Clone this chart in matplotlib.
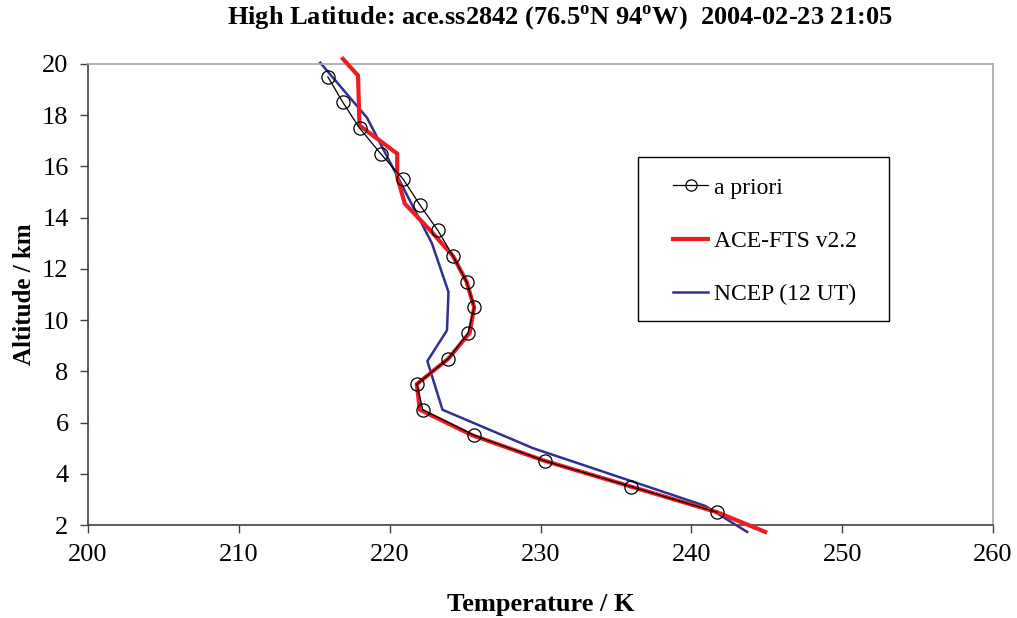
import numpy as np
import matplotlib
matplotlib.use("Agg")
import matplotlib.pyplot as plt
from matplotlib.patches import Rectangle

# -----------------------------
# Data
# -----------------------------
apriori_alt = [19.5, 18.5, 17.5, 16.5, 15.5, 14.5, 13.5, 12.5, 11.5, 10.5,
               9.5, 8.5, 7.5, 6.5, 5.5, 4.5, 3.5, 2.5]
apriori_T = [215.9, 216.9, 218.0, 219.4, 220.9, 222.0, 223.2, 224.2, 225.1, 225.6,
             225.2, 223.9, 221.8, 222.2, 225.6, 230.3, 236.0, 241.7]

ace_alt = [20.2, 19.55, 17.6, 16.5, 15.6, 14.55, 13.5, 12.5, 11.5, 10.5,
           9.5, 8.5, 7.5, 6.5, 5.5, 4.5, 3.5, 2.5, 1.73]
ace_T = [216.9, 217.9, 218.0, 220.5, 220.5, 221.0, 222.7, 224.2, 225.1, 225.6,
         225.3, 223.9, 221.8, 222.0, 225.5, 230.3, 236.0, 241.7, 244.9]

ncep_alt = [20.05, 17.9, 13.0, 11.1, 9.6, 8.4, 6.5, 5.0, 2.75, 1.73]
ncep_T = [215.4, 218.5, 222.8, 223.9, 223.8, 222.5, 223.5, 229.5, 240.9, 243.7]

xticks = [200, 210, 220, 230, 240, 250, 260]
yticks = [2, 4, 6, 8, 10, 12, 14, 16, 18, 20]

plt.rcParams["font.family"] = ["Liberation Serif", "DejaVu Serif"]
plt.rcParams["mathtext.fontset"] = "custom"
plt.rcParams["mathtext.rm"] = "Liberation Serif:bold"
plt.rcParams["mathtext.bf"] = "Liberation Serif:bold"

W, H = 1017, 618
fig = plt.figure(figsize=(W/100, H/100), dpi=100)
ax = fig.add_axes([88/W, 1-525/H, 905/W, 461/H])

ax.plot(apriori_T, apriori_alt, color="black", lw=0.9, marker="o", ms=9.5,
        mfc="none", mec="black", mew=0.9, label="a priori", zorder=4, clip_on=False)
ax.plot(ace_T, ace_alt, color="#ED1C24", lw=3.0, label="ACE-FTS v2.2",
        zorder=3, clip_on=False, solid_joinstyle="miter")
ax.plot(ncep_T, ncep_alt, color="#2E3192", lw=1.8, label="NCEP (12 UT)",
        zorder=2, clip_on=False)

ax.set_xlim(200, 260)
ax.set_ylim(2, 20)
ax.set_xticks(xticks)
ax.set_yticks(yticks)
ax.tick_params(axis="both", direction="out", length=6, width=1, labelsize=19,
               color="#404040")
ax.tick_params(axis="x", pad=8)
ax.tick_params(axis="y", pad=8)

for s in ["left", "bottom"]:
    ax.spines[s].set_color("#404040")
    ax.spines[s].set_linewidth(1.2)
for s in ["top", "right"]:
    ax.spines[s].set_color("#A6A6A6")
    ax.spines[s].set_linewidth(1.2)

ax.set_xlabel("Temperature / K", fontsize=19, fontweight="bold", labelpad=19)
ax.set_ylabel("Altitude / km", fontsize=18, fontweight="bold", labelpad=4)

fig.text(560/W, 1-18/H,
         r"High Latitude: ace.ss2842 (76.5$^{\mathbf{o}}$N 94$^{\mathbf{o}}$W)  2004-02-23 21:05",
         ha="center", va="center", fontsize=19, fontweight="bold")

# legend frame drawn separately so padding can differ horizontally / vertically
ax.add_patch(Rectangle(((638-88)/905, (525-321)/461), 251/905, 164/461,
                       transform=ax.transAxes, facecolor="white",
                       edgecolor="black", lw=1.0, zorder=5, clip_on=False))
leg = ax.legend(loc="upper left", bbox_to_anchor=((673-88)/905, (525-177)/461),
                borderaxespad=0, borderpad=0, fontsize=17, frameon=False,
                labelspacing=1.35, handlelength=1.5, handletextpad=0.25,
                markerscale=0.85)
leg.set_zorder(6)

fig.savefig("out.png", dpi=100)
